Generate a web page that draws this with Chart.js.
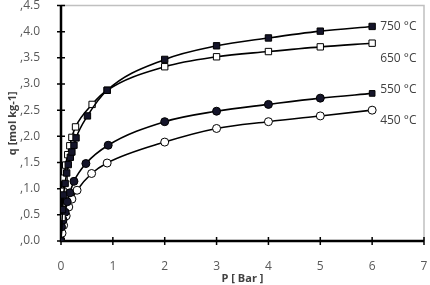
<!DOCTYPE html>
<html>
<head>
<meta charset="utf-8">
<script src="https://cdn.jsdelivr.net/npm/chart.js@4.4.0/dist/chart.umd.min.js"></script>
<style>
  html, body { margin: 0; padding: 0; background: #fff; }
  #wrap { width: 430px; height: 285px; }
</style>
</head>
<body>
<div id="wrap"><canvas id="chart" width="430" height="285"></canvas></div>
<script>
'use strict';

// pressure [bar] and uptake q [mol/kg] per temperature
var p750 = [0, 0.03, 0.05, 0.08, 0.11, 0.14, 0.18, 0.21, 0.25, 0.29, 0.51, 0.89, 2, 3, 4, 5, 6];
var q750 = [0, 0.60, 0.88, 1.10, 1.30, 1.46, 1.60, 1.70, 1.83, 1.97, 2.39, 2.88, 3.47, 3.73, 3.88, 4.01, 4.10];

var p650 = [0, 0.02, 0.04, 0.06, 0.09, 0.13, 0.17, 0.21, 0.28, 0.60, 0.89, 2, 3, 4, 5, 6];
var q650 = [0, 0.45, 0.95, 1.20, 1.45, 1.65, 1.82, 1.98, 2.18, 2.61, 2.88, 3.33, 3.52, 3.62, 3.71, 3.78];

var p550 = [0, 0.01, 0.04, 0.08, 0.12, 0.17, 0.25, 0.48, 0.91, 2, 3, 4, 5, 6];
var q550 = [0, 0.27, 0.40, 0.55, 0.75, 0.92, 1.14, 1.48, 1.83, 2.28, 2.48, 2.61, 2.73, 2.82];

var p450 = [0, 0.02, 0.05, 0.10, 0.15, 0.21, 0.31, 0.59, 0.89, 2, 3, 4, 5, 6];
var q450 = [0, 0.15, 0.30, 0.48, 0.65, 0.80, 0.97, 1.29, 1.49, 1.89, 2.15, 2.28, 2.39, 2.50];

var seriesLabels = ['750 °C', '650 °C', '550 °C', '450 °C'];
var xTicks = [0, 1, 2, 3, 4, 5, 6, 7];
var yTicks = [0, 0.5, 1, 1.5, 2, 2.5, 3, 3.5, 4, 4.5];

function pairs(xs, ys) {
    return xs.map(function (x, i) { return {x: x, y: ys[i]}; });
}

var darkFill = '#15152a';
var fontFamily = '"Open Sans", sans-serif';

function series(label, xs, ys, style, filled, labelDy) {
    var lastIdx = xs.length - 1;
    return {
        label: label,
        data: pairs(xs, ys),
        showLine: true,
        borderColor: '#000',
        borderWidth: 1.6,
        cubicInterpolationMode: 'monotone',
        // the filled series end on a square marker, like the source
        pointStyle: function (c) {
            return (filled && c.dataIndex === lastIdx) ? 'rect' : style;
        },
        pointRadius: style === 'rect' ? 4.5 : 4,
        pointBorderWidth: 1,
        pointBorderColor: '#000',
        pointBackgroundColor: filled ? darkFill : '#fff',
        labelDy: labelDy
    };
}

// axes with ticks crossing the line, plus the grey top/right frame
var frame = {
    id: 'frame',
    beforeDatasetsDraw: function (chart) {
        var ctx = chart.ctx, a = chart.chartArea;
        var x = chart.scales.x, y = chart.scales.y;
        ctx.save();
        ctx.strokeStyle = '#c0c0c0';
        ctx.lineWidth = 1.5;
        ctx.beginPath();
        ctx.moveTo(a.left, a.top);
        ctx.lineTo(a.right, a.top);
        ctx.lineTo(a.right, a.bottom);
        ctx.stroke();

        ctx.strokeStyle = '#000';
        ctx.lineWidth = 2.5;
        ctx.beginPath();
        ctx.moveTo(a.left, a.top);
        ctx.lineTo(a.left, a.bottom);
        ctx.lineTo(a.right, a.bottom);
        ctx.stroke();

        ctx.lineWidth = 1.5;
        ctx.beginPath();
        yTicks.forEach(function (v) {
            var py = y.getPixelForValue(v);
            ctx.moveTo(a.left - 4, py);
            ctx.lineTo(a.left + 4, py);
        });
        xTicks.forEach(function (v) {
            var px = x.getPixelForValue(v);
            ctx.moveTo(px, a.bottom - 4);
            ctx.lineTo(px, a.bottom + 4);
        });
        ctx.stroke();
        ctx.restore();
    },
    afterDatasetsDraw: function (chart) {
        var ctx = chart.ctx;
        ctx.save();
        ctx.font = '12px ' + fontFamily;
        ctx.fillStyle = '#404040';
        ctx.textBaseline = 'middle';
        chart.data.datasets.forEach(function (ds, i) {
            var pts = chart.getDatasetMeta(i).data;
            var last = pts[pts.length - 1];
            ctx.fillText(ds.label, last.x + 8, last.y + ds.labelDy);
        });
        ctx.restore();
    }
};

new Chart(document.getElementById('chart').getContext('2d'), {
    type: 'scatter',
    data: {
        datasets: [
            series(seriesLabels[0], p750, q750, 'rect', true, 0),
            series(seriesLabels[1], p650, q650, 'rect', false, 15),
            series(seriesLabels[2], p550, q550, 'circle', true, -4),
            series(seriesLabels[3], p450, q450, 'circle', false, 10)
        ]
    },
    options: {
        responsive: false,
        animation: false,
        layout: {padding: {top: 5, right: 6, left: 0, bottom: 0}},
        plugins: {
            legend: {display: false},
            tooltip: {enabled: false}
        },
        scales: {
            x: {
                type: 'linear',
                min: 0,
                max: 7,
                grid: {display: false},
                border: {display: false},
                afterBuildTicks: function (s) { s.ticks = xTicks.map(function (v) { return {value: v}; }); },
                afterFit: function (s) {
                    s.height = 44;
                    s.paddingLeft = 0;
                    s.paddingRight = 0;
                },
                ticks: {
                    color: '#595959',
                    font: {family: fontFamily, size: 12},
                    padding: 10
                },
                title: {
                    display: true,
                    text: 'P [ Bar ]',
                    color: '#404040',
                    font: {family: fontFamily, size: 11, weight: 'bold'},
                    padding: {top: 0, bottom: 0}
                }
            },
            y: {
                type: 'linear',
                min: 0,
                max: 4.5,
                grid: {display: false},
                border: {display: false},
                afterBuildTicks: function (s) { s.ticks = yTicks.map(function (v) { return {value: v}; }); },
                afterFit: function (s) {
                    s.width = 61;
                    s.paddingTop = 0;
                    s.paddingBottom = 0;
                },
                ticks: {
                    color: '#595959',
                    font: {family: fontFamily, size: 12},
                    padding: 13,
                    callback: function (v) { return ',' + Number(v).toFixed(1); }
                },
                title: {
                    display: true,
                    text: 'q [mol kg-1]',
                    color: '#404040',
                    font: {family: fontFamily, size: 11, weight: 'bold'},
                    padding: {top: 6, bottom: 0}
                }
            }
        }
    },
    plugins: [frame]
});
</script>
</body>
</html>
